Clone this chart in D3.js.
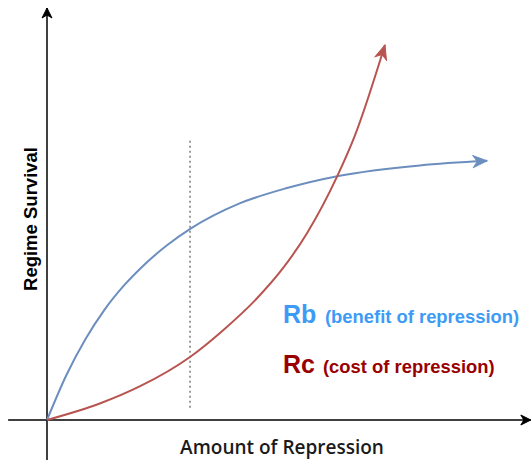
<!DOCTYPE html>
<html>
<head>
<meta charset="utf-8">
<script src="https://cdn.jsdelivr.net/npm/d3@7"></script>
<style>
  body { margin: 0; background: #fff; }
  svg { display: block; }
</style>
</head>
<body>
<svg id="chart"></svg>
<script>
// curves, in 0..100 units of each axis
const benefitX = [0, 4, 8, 12, 16, 20, 25, 30, 40, 50, 61, 77.7, 91.7];
const benefitY = [0, 10.8, 19.6, 26.8, 32.6, 37.4, 42.4, 46.5, 52.5, 56.3, 59.3, 61.8, 62.9];
const costX = [0, 11.0, 19.4, 29.8, 36.7, 43.8, 49.2, 54.2, 60.4, 64.2, 70.4];
const costY = [0, 4.0, 8.2, 15.3, 21.8, 29.6, 36.9, 45.4, 59.0, 69.2, 91.0];
const markerX = 29.8; // dotted reference line
const markerY = [3, 68];
const xAxisExtent = [-8.1, 100.8];
const yAxisExtent = [-9.7, 100];

const width = 532, height = 460;

const svg = d3.select('#chart').attr('width', width).attr('height', height);

const x = d3.scaleLinear().domain([0, 100]).range([47, 527]);
const y = d3.scaleLinear().domain([0, 100]).range([420, 8]);

const defs = svg.append('defs');
function arrow(id, color, len, half) {
    defs.append('marker')
        .attr('id', id)
        .attr('markerUnits', 'userSpaceOnUse')
        .attr('viewBox', `${-len - 1} ${-half - 1} ${len + 2} ${half * 2 + 2}`)
        .attr('markerWidth', len + 2)
        .attr('markerHeight', half * 2 + 2)
        .attr('refX', 0)
        .attr('refY', 0)
        .attr('orient', 'auto')
        .append('path')
        .attr('d', `M0,0 L${-len},${-half} L${-len * 0.7},0 L${-len},${half} Z`)
        .attr('fill', color)
        .attr('stroke', color)
        .attr('stroke-width', 1);
}
arrow('arrow-black', '#000', 10, 5);
arrow('arrow-blue', '#6c8ebf', 14, 6);
arrow('arrow-red', '#b85450', 14, 6);

// axes
svg.append('line')
    .attr('x1', x(xAxisExtent[0])).attr('y1', y(0))
    .attr('x2', x(xAxisExtent[1])).attr('y2', y(0))
    .attr('stroke', '#000').attr('stroke-width', 1.5)
    .attr('marker-end', 'url(#arrow-black)');
svg.append('line')
    .attr('x1', x(0)).attr('y1', y(yAxisExtent[0]))
    .attr('x2', x(0)).attr('y2', y(yAxisExtent[1]))
    .attr('stroke', '#000').attr('stroke-width', 1.5)
    .attr('marker-end', 'url(#arrow-black)');

// dotted line
svg.append('line')
    .attr('x1', x(markerX)).attr('y1', y(markerY[0]))
    .attr('x2', x(markerX)).attr('y2', y(markerY[1]))
    .attr('stroke', '#666').attr('stroke-width', 1.3)
    .attr('stroke-dasharray', '2,3');

const line = d3.line()
    .x((d) => x(d[0]))
    .y((d) => y(d[1]))
    .curve(d3.curveMonotoneX);

svg.append('path')
    .datum(d3.zip(benefitX, benefitY))
    .attr('d', line)
    .attr('fill', 'none')
    .attr('stroke', '#6c8ebf')
    .attr('stroke-width', 2)
    .attr('marker-end', 'url(#arrow-blue)');

svg.append('path')
    .datum(d3.zip(costX, costY))
    .attr('d', line)
    .attr('fill', 'none')
    .attr('stroke', '#b85450')
    .attr('stroke-width', 2)
    .attr('marker-end', 'url(#arrow-red)');

// labels
svg.append('text')
    .attr('transform', 'translate(37,219) rotate(-90)')
    .attr('text-anchor', 'middle')
    .style('font-family', '"Liberation Sans", Arial, sans-serif')
    .style('font-weight', 'bold')
    .style('font-size', '18.5px')
    .text('Regime Survival');

svg.append('text')
    .attr('x', 282).attr('y', 454)
    .attr('text-anchor', 'middle')
    .style('font-family', '"Open Sans", sans-serif')
    .style('font-weight', 600)
    .style('font-size', '19px')
    .attr('fill', '#1a1a1a')
    .text('Amount of Repression');

const rb = svg.append('text')
    .attr('x', 283).attr('y', 323)
    .style('font-family', '"Liberation Sans", Arial, sans-serif')
    .style('font-weight', 'bold')
    .attr('fill', '#3d9bf5');
rb.append('tspan').style('font-size', '25px').text('Rb');
rb.append('tspan').attr('x', 325).style('font-size', '18.4px').text('(benefit of repression)');

const rc = svg.append('text')
    .attr('x', 283).attr('y', 373)
    .style('font-family', '"Liberation Sans", Arial, sans-serif')
    .style('font-weight', 'bold')
    .attr('fill', '#990000');
rc.append('tspan').style('font-size', '25px').text('Rc');
rc.append('tspan').attr('x', 323).style('font-size', '18.4px').text('(cost of repression)');
</script>
</body>
</html>
